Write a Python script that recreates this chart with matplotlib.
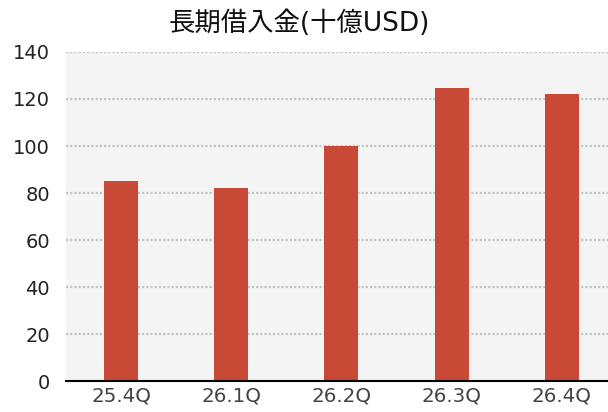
import numpy as np
import matplotlib.pyplot as plt

plt.rcParams['font.family'] = ['DejaVu Sans', 'Noto Sans CJK JP']

quarters = ['25.4Q', '26.1Q', '26.2Q', '26.3Q', '26.4Q']
debt = [85.1, 82.1, 99.8, 124.6, 122.2]
yticks = [0, 20, 40, 60, 80, 100, 120, 140]

fig = plt.figure(figsize=(6.08, 4.12), dpi=100)
ax = fig.add_axes([0.1086, 0.0752, 0.8914, 0.7986])
ax.set_facecolor('#f4f4f4')

x = np.arange(len(quarters))
ax.bar(x, debt, width=0.31, color='#c84a36', zorder=3)

ax.set_xlim(-0.5, 4.42)
ax.set_ylim(0, 140)
ax.set_yticks(yticks)
ax.set_xticks(x)
ax.set_xticklabels(quarters)
# dotted light grid
ax.yaxis.grid(True, linestyle=(0, (1, 0.9)), color='#c4c4c4', linewidth=1.6, zorder=1)
ax.tick_params(axis='both', length=0, labelsize=14, colors='#222222')
ax.tick_params(axis='y', pad=11.5)
ax.tick_params(axis='x', pad=4, labelsize=14.3, labelcolor='#444444')
for s in ['top', 'right', 'left']:
    ax.spines[s].set_visible(False)
ax.spines['bottom'].set_linewidth(1.5)
ax.spines['bottom'].set_zorder(4)

fig.text(0.492, 0.943, '長期借入金(十億USD)', ha='center', va='center', fontsize=19, color='#111111')

fig.savefig('out.png', dpi=100)
